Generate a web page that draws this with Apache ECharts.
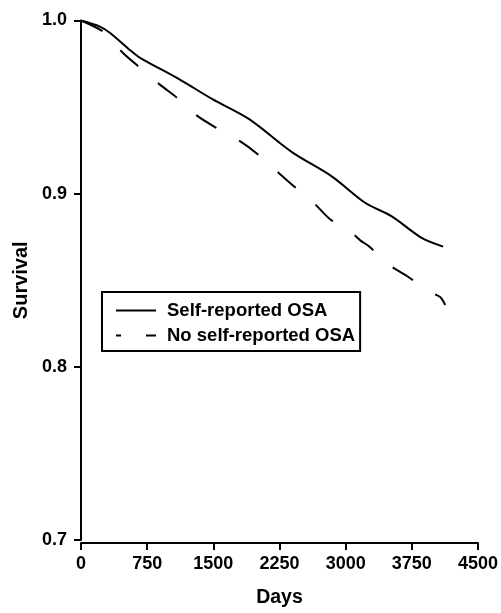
<!DOCTYPE html>
<html>
<head>
<meta charset="utf-8">
<script src="https://cdn.jsdelivr.net/npm/echarts@6/dist/echarts.min.js"></script>
<style>html,body{margin:0;padding:0;background:#fff}#c{width:501px;height:613px}</style>
</head>
<body>
<div id="c"></div>
<script>
const seriesNames = ['Self-reported OSA', 'No self-reported OSA'];
const osaDays = [0, 214, 327, 553, 665, 1116, 1489, 1906, 2391, 2842, 3225, 3519, 3857, 4105];
const osaSurv = [1.0, 0.9965, 0.9929, 0.983, 0.9786, 0.966, 0.9546, 0.943, 0.924, 0.910, 0.8946, 0.887, 0.8746, 0.8694];
const noOsaDays = [0, 271, 474, 665, 891, 1094, 1319, 1534, 1793, 1996, 2221, 2413, 2639, 2831, 3067, 3169, 3270, 3485, 3699, 3936, 4071, 4128];
const noOsaSurv = [1.0, 0.9929, 0.9814, 0.9729, 0.9631, 0.9551, 0.9449, 0.938, 0.9306, 0.9231, 0.9129, 0.9043, 0.8946, 0.8849, 0.8774, 0.8729, 0.8694, 0.8591, 0.8523, 0.8437, 0.8403, 0.8357];
const xTicks = [0, 4500, 750];
const yTicks = [0.7, 1.0, 0.1];

const font = 'Liberation Sans, Arial, sans-serif';
const chart = echarts.init(document.getElementById('c'));
const pair = (xs, ys) => xs.map((x, i) => [x, ys[i]]);
chart.setOption({
  animation: false,
  backgroundColor: '#fff',
  grid: {left: 81, right: 20, top: 20.5, bottom: 67.5},
  legend: {
    orient: 'vertical', left: 102, top: 292,
    padding: [8, 5, 5, 13],
    borderColor: '#000', borderWidth: 2,
    itemWidth: 40, itemHeight: 14, itemGap: 4,
    itemStyle: {opacity: 0},
    textStyle: {fontFamily: font, fontWeight: 'bold', fontSize: 18.5, color: '#000', lineHeight: 21, padding: [0, 0, 0, 6]},
    data: [
      {name: seriesNames[0]},
      {name: seriesNames[1], lineStyle: {type: [23, 25], dashOffset: 18}}
    ]
  },
  xAxis: {
    type: 'value', min: xTicks[0], max: xTicks[1], interval: xTicks[2],
    offset: 3,
    name: 'Days', nameLocation: 'middle', nameGap: 45,
    nameTextStyle: {fontFamily: font, fontWeight: 'bold', fontSize: 19.5, color: '#000'},
    axisLine: {lineStyle: {color: '#000', width: 2}},
    axisTick: {show: true, length: 7, lineStyle: {color: '#000', width: 2}},
    axisLabel: {fontFamily: font, fontWeight: 'bold', fontSize: 18, color: '#000', margin: 12,
      formatter: v => String(v)},
    splitLine: {show: false}
  },
  yAxis: {
    type: 'value', min: yTicks[0], max: yTicks[1], interval: yTicks[2],
    offset: 1,
    name: 'Survival', nameLocation: 'middle', nameGap: 45.5, nameRotate: 90,
    nameTextStyle: {fontFamily: font, fontWeight: 'bold', fontSize: 20, color: '#000'},
    axisLine: {show: true, lineStyle: {color: '#000', width: 2}},
    axisTick: {show: true, length: 7, lineStyle: {color: '#000', width: 2}},
    axisLabel: {fontFamily: font, fontWeight: 'bold', fontSize: 18, color: '#000', margin: 13,
      formatter: v => v.toFixed(1)},
    splitLine: {show: false}
  },
  series: [
    {name: seriesNames[0], type: 'line', symbol: 'none', smooth: 0.3,
     data: pair(osaDays, osaSurv), lineStyle: {color: '#000', width: 2}, itemStyle: {color: '#000'}},
    {name: seriesNames[1], type: 'line', symbol: 'none', smooth: 0.3,
     data: pair(noOsaDays, noOsaSurv), lineStyle: {color: '#000', width: 2, type: [24, 26]}, itemStyle: {color: '#000'}}
  ]
});
</script>
</body>
</html>
